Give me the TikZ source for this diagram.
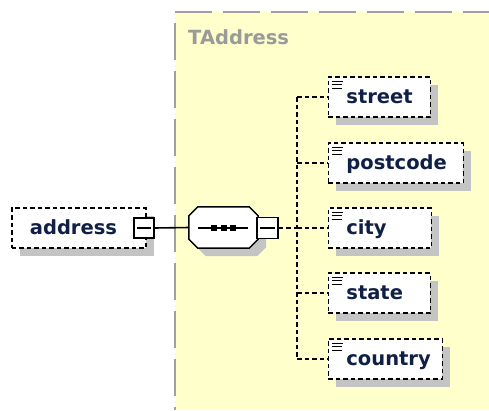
\documentclass[tikz,border=0pt]{standalone}
\usepackage{fontspec}
\setmainfont{DejaVu Sans}
\usetikzlibrary{shadows}
\definecolor{bgyellow}{HTML}{FFFFCC}
\definecolor{bordergray}{HTML}{A0A0A0}
\definecolor{shadowgray}{HTML}{C4C4C4}
\definecolor{textnavy}{HTML}{0F1F45}
\definecolor{typegray}{HTML}{9A9A9A}
\newcommand\octapath[1]{([xshift=9pt]#1.north west) -- ([xshift=-9pt]#1.north east) -- ([yshift=-9pt]#1.north east) -- ([yshift=9pt]#1.south east) -- ([xshift=-9pt]#1.south east) -- ([xshift=9pt]#1.south west) -- ([yshift=9pt]#1.south west) -- ([yshift=-9pt]#1.north west) -- cycle}
\begin{document}
\begin{tikzpicture}[x=1pt,y=-1pt,
  shad/.style={drop shadow={shadow xshift=8pt,shadow yshift=-8pt,fill=shadowgray,opacity=1}},
  elembox/.style={shad, rectangle, draw=black, fill=white, line width=1.8pt,
    dash pattern=on 4.5pt off 3pt, minimum height=40pt, inner xsep=18pt, inner ysep=0pt,
    align=left, text height=16pt, text depth=4pt,
    font=\fontsize{19.5}{22}\selectfont\bfseries, text=textnavy, anchor=west,
    execute at begin node={\hyphenpenalty=10000}},
  childbox/.style={elembox, path picture={
    \draw[solid,line width=0.9pt,black] ([xshift=3.5pt,yshift=-4pt]path picture bounding box.north west) -- ++(11,0);
    \draw[solid,line width=0.9pt,black] ([xshift=3.5pt,yshift=-7.5pt]path picture bounding box.north west) -- ++(10,0);
    \draw[solid,line width=0.9pt,black] ([xshift=3.5pt,yshift=-11pt]path picture bounding box.north west) -- ++(10,0);}},
  minusbox/.style={rectangle, draw=black, fill=white, solid, line width=1.5pt,
    minimum size=20pt, inner sep=0pt, path picture={
    \draw[line width=1.6pt] ([xshift=3pt]path picture bounding box.west) -- ([xshift=-3pt]path picture bounding box.east);}},
  seqframe/.style={rectangle, minimum width=69pt, minimum height=41pt, inner sep=0pt},
  conn/.style={draw=black, line width=1.6pt, dash pattern=on 4.5pt off 3pt},
  solidconn/.style={draw=black, line width=1.6pt},
  border/.style={draw=bordergray, line width=2.4pt, dash pattern=on 37pt off 11pt},
  typelabel/.style={font=\fontsize{19.5}{22}\selectfont\bfseries, text=typegray, inner sep=0pt, anchor=west}
]
\useasboundingbox (0,0) rectangle (489,410);
% type area
\fill[bgyellow] (175,12) rectangle (489,410);
\draw[border] (175,12) -- (489,12);
\draw[border, dash phase=37pt] (175,12) -- (175,410);
\node[typelabel] (tname) at (188,37) {TAddress};

% address element
\node[elembox, text width=98pt] (address) at (11,228) {address};
\node[minusbox] (m1) at (144,228) {};

% sequence compositor
\node[seqframe] (seqsh) at (231.5,235.5) {};
\node[seqframe] (seq) at (223.5,227.5) {};
\fill[shadowgray] \octapath{seqsh};
\filldraw[fill=white, draw=black, line width=1.5pt] \octapath{seq};
\draw[line width=1.5pt] ([xshift=-25.5pt,yshift=-0.5pt]seq.center) -- ([xshift=24.5pt,yshift=-0.5pt]seq.center);
\foreach \dx in {-9.5,0,9.5}
  \fill[black] ([xshift=\dx pt-3pt,yshift=-3.5pt]seq.center) rectangle ++(6,-6);
\node[minusbox, minimum size=21pt] (m2) at (267.5,228) {};

% children
\node[childbox, text width=66pt] (street)   at (327.5,97)  {street};
\node[childbox, text width=99pt] (postcode) at (327.5,163) {postcode};
\node[childbox, text width=67pt] (city)     at (327.5,228) {city};
\node[childbox, text width=66pt] (state)    at (327.5,293) {state};
\node[childbox, text width=78pt] (country)  at (327.5,359) {country};

% connectors
\coordinate (j)  at (297,228);
\coordinate (vt) at (297,97);
\coordinate (vb) at (297,359);
\draw[solidconn] (m1.east) -- (seq.west);
\draw[conn] (m2.east) -- (j);
\draw[conn] (vt) -- (vb);
\draw[conn] (vt) -- (street.west);
\draw[conn] (postcode.west -| j) -- (postcode.west);
\draw[conn] (j) -- (city.west);
\draw[conn] (state.west -| j) -- (state.west);
\draw[conn] (vb) -- (country.west);
\end{tikzpicture}
\end{document}
